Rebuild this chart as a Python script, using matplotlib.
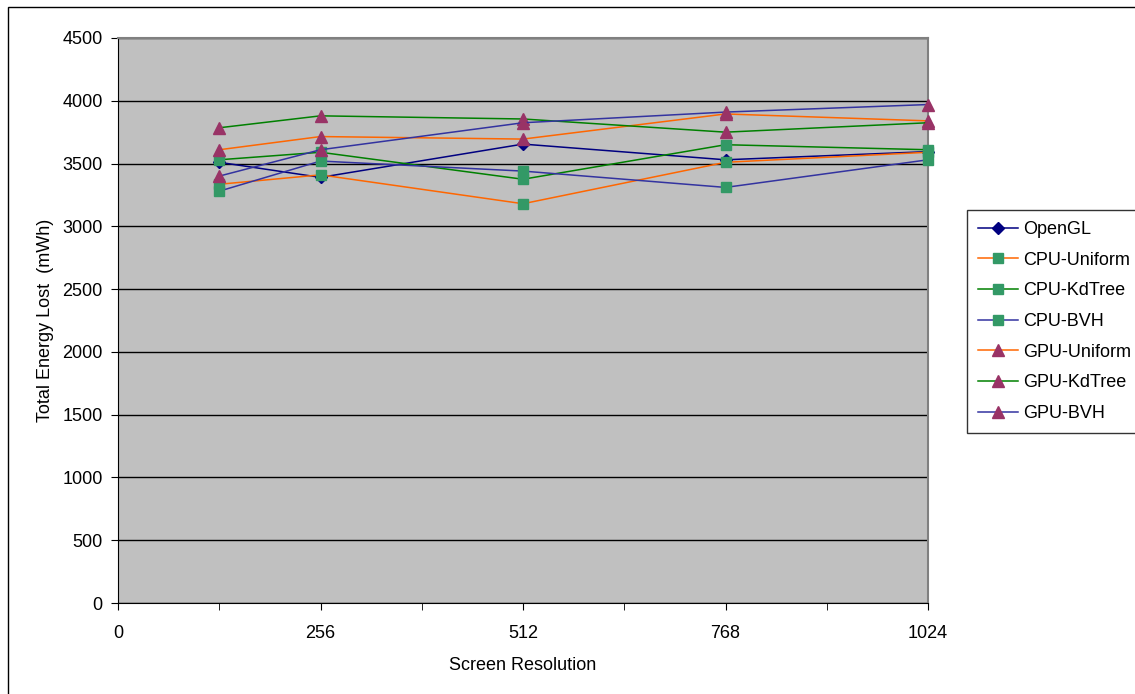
import matplotlib.pyplot as plt
from matplotlib.patches import Rectangle

plt.rcParams['font.family'] = ['Liberation Sans', 'DejaVu Sans']

resolution = [128, 256, 512, 768, 1024]

series_names = ["OpenGL", "CPU-Uniform", "CPU-KdTree", "CPU-BVH",
                "GPU-Uniform", "GPU-KdTree", "GPU-BVH"]
opengl = [3510, 3390, 3655, 3530, 3595]
cpu_uniform = [3335, 3410, 3180, 3510, 3590]
cpu_kdtree = [3530, 3590, 3375, 3650, 3610]
cpu_bvh = [3280, 3520, 3440, 3310, 3530]
gpu_uniform = [3610, 3715, 3695, 3895, 3840]
gpu_kdtree = [3785, 3880, 3855, 3750, 3825]
gpu_bvh = [3400, 3610, 3825, 3910, 3970]

values = [opengl, cpu_uniform, cpu_kdtree, cpu_bvh, gpu_uniform, gpu_kdtree, gpu_bvh]
line_colors = ["#000080", "#FF6600", "#008000", "#3333A0",
               "#FF6600", "#008000", "#3333A0"]
markers = ["D", "s", "s", "s", "^", "^", "^"]
marker_colors = ["#000080", "#339966", "#339966", "#339966",
                 "#993366", "#993366", "#993366"]
marker_sizes = [6, 7, 7, 7, 8, 8, 8]

fig = plt.figure(figsize=(11.35, 6.94), dpi=100)
ax = fig.add_axes([118 / 1135, 91 / 694, 810 / 1135, 565 / 694])
ax.set_facecolor("#C0C0C0")

# chart border (right and bottom edges fall outside the image)
fig.patches.append(Rectangle((8 / 1135, -0.1), 1.2, (1 - 7 / 694) + 0.1,
                             transform=fig.transFigure, fill=False,
                             edgecolor="black", linewidth=1))

for name, vals, lc, m, mc, ms in zip(series_names, values, line_colors,
                                     markers, marker_colors, marker_sizes):
    ax.plot(resolution, vals, color=lc, linewidth=1.1, marker=m,
            markerfacecolor=mc, markeredgecolor=mc, markersize=ms,
            label=name, clip_on=False, zorder=3)

ax.set_xlim(0, 1024)
ax.set_ylim(0, 4500)
ax.set_xticks([0, 256, 512, 768, 1024])
ax.set_xticks([128, 384, 640, 896], minor=True)
ax.set_yticks(range(0, 4501, 500))
ax.yaxis.grid(True, color="black", linewidth=1)
ax.set_axisbelow(True)

for side in ["top", "right"]:
    ax.spines[side].set_color("#808080")
    ax.spines[side].set_linewidth(1.5)
for side in ["left", "bottom"]:
    ax.spines[side].set_color("black")

ax.tick_params(axis="both", which="both", direction="out", length=5,
               labelsize=13, colors="black")
ax.tick_params(axis="x", pad=11)
ax.tick_params(axis="y", pad=6)

ax.set_xlabel("Screen Resolution", fontsize=13, labelpad=11)
ax.set_ylabel("Total Energy Lost  (mWh)", fontsize=13, labelpad=6)

leg = fig.legend(loc="upper left", bbox_to_anchor=(967 / 1135, 1 - 210 / 694),
                 fontsize=13, frameon=True, fancybox=False, handlelength=2.2,
                 labelspacing=0.76, borderpad=0.6, handletextpad=0.3,
                 borderaxespad=0)
leg.get_frame().set_edgecolor("black")
leg.get_frame().set_linewidth(1)

fig.savefig("out.png", dpi=100)
